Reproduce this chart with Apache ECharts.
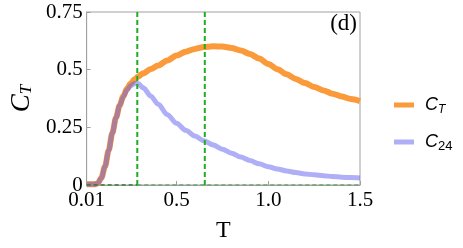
<!DOCTYPE html>
<html>
<head>
<meta charset="utf-8">
<script src="https://cdn.jsdelivr.net/npm/echarts@6/dist/echarts.min.js"></script>
<style>
html,body{margin:0;padding:0;background:#fff;}
#chart{width:463px;height:248px;}
</style>
</head>
<body>
<div id="chart"></div>
<script>
// Data
var T    = [0.01,0.05,0.07,0.09,0.11,0.13,0.15,0.17,0.19,0.21,0.23,0.25,0.27,0.29,0.32,0.36,0.40,0.45,0.50,0.55,0.60,0.65,0.70,0.75,0.80,0.85,0.90,0.95,1.00,1.05,1.10,1.15,1.20,1.25,1.30,1.35,1.40,1.45,1.50];
var CT   = [0.003,0.003,0.007,0.03,0.08,0.15,0.225,0.292,0.345,0.385,0.418,0.44,0.457,0.47,0.485,0.503,0.518,0.54,0.561,0.578,0.59,0.598,0.601,0.6,0.594,0.583,0.568,0.548,0.525,0.502,0.48,0.46,0.442,0.425,0.41,0.396,0.384,0.373,0.364];
var C24  = [0.003,0.003,0.007,0.03,0.08,0.15,0.225,0.292,0.345,0.382,0.412,0.43,0.44,0.44,0.42,0.385,0.35,0.305,0.268,0.237,0.212,0.192,0.173,0.155,0.138,0.121,0.106,0.092,0.079,0.069,0.061,0.054,0.048,0.044,0.04,0.037,0.034,0.032,0.030];
var markerT = [0.286, 0.654];
var xTickValues = [0.01, 0.5, 1.0, 1.5];
var xTickLabels = ['0.01', '0.5', '1.0', '1.5'];
var yTickLabels = ['0', '0.25', '0.5', '0.75'];
var xRange = [0.01, 1.5];
var yRange = [0, 0.75];

function pairs(xs, ys){ return xs.map(function(x,i){ return [x, ys[i]]; }); }

var serif = '"Liberation Serif","Times New Roman",serif';
var sans = '"Liberation Sans",Arial,sans-serif';
var green = '#1cb01c';

var series = [
  {
    name: 'CT', type: 'line', data: pairs(T, CT), smooth: 0.3, smoothMonotone: 'x', showSymbol: false,
    lineStyle: {color: '#fa9a3a', width: 6}, itemStyle: {color: '#fa9a3a'}, z: 2
  },
  {
    name: 'C24', type: 'line', data: pairs(T, C24), smooth: 0.3, smoothMonotone: 'x', showSymbol: false,
    lineStyle: {color: 'rgba(95,95,240,0.5)', width: 5}, itemStyle: {color: 'rgba(95,95,240,0.5)'}, z: 3
  }
];
markerT.forEach(function(t){
  series.push({
    type: 'line', data: [[t, yRange[0]], [t, yRange[1]]], showSymbol: false, silent: true,
    lineStyle: {color: green, width: 2, type: [5, 3]}, z: 5
  });
});
series.push({
  type: 'line', data: [[xRange[0], 0], [markerT[0], 0]], showSymbol: false, silent: true,
  lineStyle: {color: '#1f7a1f', width: 1.5, type: [4, 3]}, z: 5
});
series.push({
  type: 'line', data: [[markerT[0], 0], [xRange[1], 0]], showSymbol: false, silent: true,
  lineStyle: {color: '#2f9a2f', width: 1.2, type: [4, 3]}, z: 5
});

var chart = echarts.init(document.getElementById('chart'), null, {renderer: 'canvas'});
chart.setOption({
  animation: false,
  backgroundColor: '#fff',
  grid: {left: 76, right: 103, top: 12, bottom: 62, show: true, borderColor: '#a0a0a0', borderWidth: 1, backgroundColor: 'transparent'},
  legend: {
    orient: 'vertical', left: 389, top: 91, itemWidth: 20, itemHeight: 5, itemGap: 17,
    icon: 'rect', data: ['CT', 'C24'],
    formatter: function(n){ return n === 'CT' ? '{c|C}{s|T}' : '{c|C}{s2|24}'; },
    textStyle: {
      padding: [0, 0, 0, 6],
      rich: {
        c: {fontFamily: sans, fontStyle: 'italic', fontSize: 18, color: '#000', lineHeight: 22},
        s: {fontFamily: sans, fontStyle: 'italic', fontSize: 12, color: '#000', verticalAlign: 'bottom', padding: [8, 0, 0, 0]},
        s2: {fontFamily: sans, fontSize: 13, color: '#000', verticalAlign: 'bottom', padding: [8, 0, 0, 0]}
      }
    }
  },
  xAxis: {
    type: 'value', min: xRange[0], max: xRange[1],
    name: 'T', nameLocation: 'middle', nameGap: 34,
    nameTextStyle: {fontFamily: serif, fontSize: 24, color: '#000'},
    axisLine: {show: true, lineStyle: {color: '#a0a0a0'}},
    axisTick: {show: true, inside: true, length: 4, customValues: xTickValues, lineStyle: {color: '#a0a0a0'}},
    axisLabel: {
      customValues: xTickValues, margin: 5,
      formatter: function(v){ var i = xTickValues.indexOf(v); return i >= 0 ? xTickLabels[i] : ''; },
      fontFamily: serif, fontSize: 21, color: '#000'
    },
    splitLine: {show: false}
  },
  yAxis: {
    type: 'value', min: yRange[0], max: yRange[1], interval: 0.25,
    name: '{c|C}{s|T}', nameLocation: 'middle', nameGap: 50, nameRotate: 90,
    nameTextStyle: {
      rich: {
        c: {fontFamily: serif, fontStyle: 'italic', fontSize: 27, color: '#000'},
        s: {fontFamily: serif, fontStyle: 'italic', fontSize: 17, color: '#000', verticalAlign: 'bottom', padding: [10, 0, 0, 0]}
      }
    },
    axisLine: {show: true, lineStyle: {color: '#a0a0a0'}},
    axisTick: {show: true, inside: true, length: 4, lineStyle: {color: '#a0a0a0'}},
    axisLabel: {
      margin: 4,
      formatter: function(v){ return yTickLabels[Math.round(v / 0.25)]; },
      fontFamily: serif, fontSize: 21, color: '#000'
    },
    splitLine: {show: false}
  },
  graphic: [{
    type: 'text', right: 106, top: 12,
    style: {text: '(d)', font: '23px ' + serif, fill: '#000'}
  }],
  series: series
});
</script>
</body>
</html>
